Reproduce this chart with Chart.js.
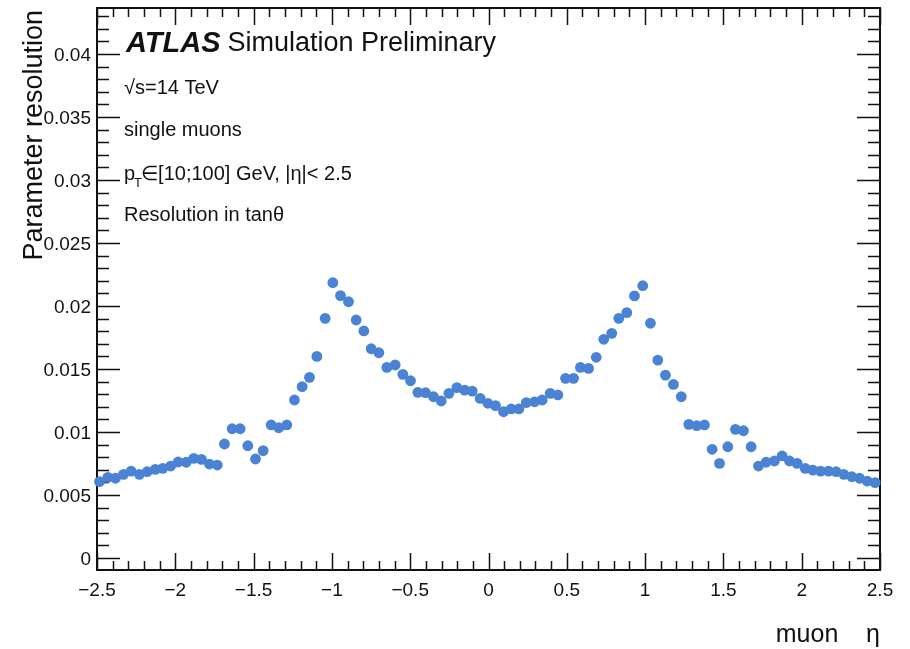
<!DOCTYPE html>
<html>
<head>
<meta charset="utf-8">
<script src="https://cdn.jsdelivr.net/npm/chart.js@4"></script>
<style>
  html, body { margin: 0; padding: 0; background: #fff; }
  canvas { display: block; }
</style>
</head>
<body>
<canvas id="myChart" width="910" height="649"></canvas>
<script>
// muon eta bin positions
var etaValues = [
  -2.484, -2.431, -2.382, -2.331, -2.282, -2.229, -2.18, -2.128, -2.08, -2.03,
  -1.982, -1.93, -1.882, -1.833, -1.782, -1.732, -1.686, -1.637, -1.586, -1.537,
  -1.488, -1.439, -1.388, -1.339, -1.288, -1.239, -1.19, -1.143, -1.096,
  -1.043, -0.994, -0.945, -0.894, -0.845, -0.796, -0.749, -0.7, -0.649, -0.596,
  -0.547, -0.498, -0.451, -0.402, -0.351, -0.302, -0.253, -0.202, -0.153, -0.104,
  -0.053, -0.004, 0.045, 0.096, 0.145, 0.194, 0.241,
  0.294, 0.343, 0.394, 0.443, 0.492, 0.543, 0.587, 0.639, 0.688, 0.736,
  0.787, 0.832, 0.883, 0.932, 0.985, 1.034, 1.081, 1.13, 1.181, 1.231,
  1.279, 1.33, 1.379, 1.428, 1.475,
  1.528, 1.577, 1.628, 1.677, 1.724, 1.773, 1.826, 1.875, 1.922, 1.971,
  2.022, 2.071, 2.12, 2.171, 2.22, 2.269, 2.32, 2.369, 2.418, 2.469
];

// resolution in tan(theta) per bin
var resValues = [
  0.00606, 0.0064, 0.00633, 0.00664, 0.0069, 0.00664, 0.00685, 0.00704, 0.00712, 0.0073,
  0.00762, 0.0076, 0.00791, 0.00783, 0.00746, 0.00738, 0.00905, 0.01026, 0.01026, 0.00891,
  0.00786, 0.00852, 0.01056, 0.01034, 0.01056, 0.01254, 0.0136, 0.01434, 0.016,
  0.01902, 0.02185, 0.02082, 0.02034, 0.01889, 0.01802, 0.01661, 0.01629, 0.01513, 0.01532,
  0.01458, 0.01407, 0.01315, 0.01312, 0.0128, 0.01246, 0.01307, 0.01352, 0.01333, 0.01325,
  0.01267, 0.01228, 0.01209, 0.01161, 0.01183, 0.01183, 0.01233,
  0.0124, 0.01254, 0.01307, 0.01294, 0.01426, 0.01426, 0.01513, 0.01505, 0.01593, 0.01736,
  0.01783, 0.01902, 0.01947, 0.0208, 0.02161, 0.01863, 0.01571, 0.01452, 0.01378, 0.0128,
  0.01061, 0.0105, 0.01056, 0.00863, 0.00751,
  0.00883, 0.01021, 0.0101, 0.00883, 0.0073, 0.0076, 0.0077, 0.0081, 0.0077, 0.00751,
  0.00712, 0.00698, 0.0069, 0.0069, 0.00685, 0.00664, 0.00645, 0.00633, 0.00611, 0.00598
];

var xTicks = [-2.5, -2, -1.5, -1, -0.5, 0, 0.5, 1, 1.5, 2, 2.5];
var yTicks = [0, 0.005, 0.01, 0.015, 0.02, 0.025, 0.03, 0.035, 0.04];

var points = etaValues.map(function (e, i) { return { x: e, y: resValues[i] }; });

var font = '"Liberation Sans", Arial, sans-serif';

// ROOT-style frame with ticks pointing inwards
var frame = {
  id: 'frame',
  beforeDatasetsDraw: function (chart) {
    var c = chart.ctx, a = chart.chartArea;
    var xs = chart.scales.x, ys = chart.scales.y;
    c.save();
    c.strokeStyle = '#111';
    c.lineWidth = 2;
    c.strokeRect(a.left, a.top, a.right - a.left, a.bottom - a.top);
    c.lineWidth = 1.5;
    c.beginPath();
    // x ticks every 0.1, major every 0.5
    for (var k = -25; k <= 25; k++) {
      var px = Math.round(xs.getPixelForValue(k / 10)) + 0.5;
      var len = (k % 5 === 0) ? 17 : 9;
      c.moveTo(px, a.bottom); c.lineTo(px, a.bottom - len);
      c.moveTo(px, a.top); c.lineTo(px, a.top + len);
    }
    // y ticks every 0.001, major every 0.005
    for (var j = 0; j <= 43; j++) {
      var py = Math.round(ys.getPixelForValue(j / 1000)) + 0.5;
      var l2 = (j % 5 === 0) ? 23 : 12;
      c.moveTo(a.left, py); c.lineTo(a.left + l2, py);
      c.moveTo(a.right, py); c.lineTo(a.right - l2, py);
    }
    c.stroke();
    c.restore();
  },
  afterDraw: function (chart) {
    var c = chart.ctx;
    c.save();
    c.fillStyle = '#111';
    c.textBaseline = 'middle';
    c.textAlign = 'left';

    c.font = 'italic bold 29px ' + font;
    c.fillText('ATLAS', 126, 44);
    var w = c.measureText('ATLAS').width;
    c.font = '27px ' + font;
    c.fillText('Simulation Preliminary', 126 + w + 7, 44);

    c.font = '20px ' + font;
    c.fillText('\u221As=14 TeV', 124, 88);
    c.fillText('single muons', 124, 130);
    c.fillText('p', 124, 174);
    var pw = c.measureText('p').width;
    c.font = '13px ' + font;
    c.fillText('T', 124 + pw - 1, 183);
    c.font = '20px ' + font;
    c.fillText('\u2208[10;100] GeV, |\u03b7|< 2.5', 124 + pw + 6, 174);
    c.fillText('Resolution in tan\u03b8', 124, 215);

    // axis titles
    c.font = '25px ' + font;
    c.textAlign = 'right';
    c.fillText('muon    \u03b7', 880, 635);

    c.translate(35, 10);
    c.rotate(-Math.PI / 2);
    c.textAlign = 'right';
    c.font = '27px ' + font;
    c.fillText('Parameter resolution', 0, 0);
    c.restore();
  }
};

var ctx = document.getElementById('myChart').getContext('2d');
var myChart = new Chart(ctx, {
  type: 'scatter',
  data: {
    datasets: [{
      data: points,
      backgroundColor: '#4a83d3',
      borderWidth: 0,
      pointRadius: 5.4,
      clip: false
    }]
  },
  options: {
    responsive: false,
    animation: false,
    layout: { padding: { left: 0, right: 30, top: 8, bottom: 0 } },
    plugins: { legend: { display: false }, tooltip: { enabled: false } },
    scales: {
      x: {
        type: 'linear',
        min: -2.5,
        max: 2.5,
        grid: { display: false, drawTicks: false },
        border: { display: false },
        afterBuildTicks: function (s) { s.ticks = xTicks.map(function (v) { return { value: v }; }); },
        afterFit: function (s) { s.height = 79; s.paddingLeft = 0; s.paddingRight = 0; },
        ticks: {
          padding: 9,
          color: '#111',
          font: { family: font, size: 19 },
          maxRotation: 0,
          autoSkip: false,
          callback: function (v) { return String(v).replace('-', '\u2212'); }
        }
      },
      y: {
        min: -0.00095,
        max: 0.04365,
        grid: { display: false, drawTicks: false },
        border: { display: false },
        afterBuildTicks: function (s) { s.ticks = yTicks.map(function (v) { return { value: v }; }); },
        afterFit: function (s) { s.width = 97; s.paddingTop = 0; s.paddingBottom = 0; },
        ticks: {
          padding: 6,
          labelOffset: 2,
          color: '#111',
          font: { family: font, size: 19 },
          autoSkip: false,
          callback: function (v) { return String(+v.toFixed(3)); }
        }
      }
    }
  },
  plugins: [frame]
});
</script>
</body>
</html>
